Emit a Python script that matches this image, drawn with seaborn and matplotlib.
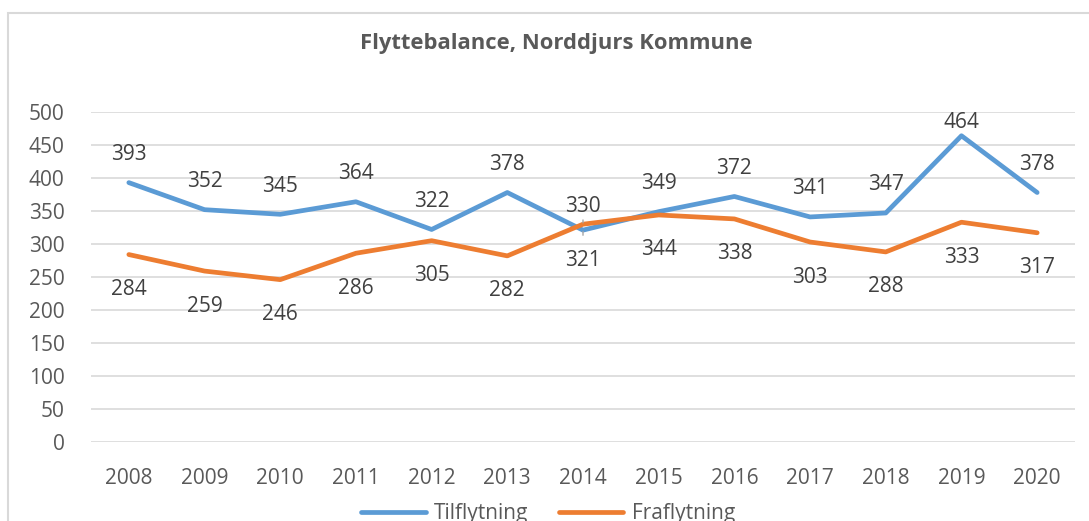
import pandas as pd
import matplotlib.pyplot as plt
import seaborn as sns
from matplotlib.patches import Rectangle

sns.set_style("white")
plt.rcParams['font.family'] = ['Open Sans', 'DejaVu Sans']

# data
years = [2008, 2009, 2010, 2011, 2012, 2013, 2014, 2015, 2016, 2017, 2018, 2019, 2020]
tilflytning = [393, 352, 345, 364, 322, 378, 321, 349, 372, 341, 347, 464, 378]
fraflytning = [284, 259, 246, 286, 305, 282, 330, 344, 338, 303, 288, 333, 317]
series_names = ["Tilflytning", "Fraflytning"]
colors = ["#5B9BD5", "#ED7D31"]

df = pd.DataFrame({
    "year": [str(y) for y in years] * 2,
    "value": tilflytning + fraflytning,
    "serie": [series_names[0]] * len(years) + [series_names[1]] * len(years),
})

fig = plt.figure(figsize=(10.89, 5.21), dpi=100)
ax = fig.add_axes([91 / 1089, 1 - 442 / 521, (1075 - 91) / 1089, (442 - 112) / 521])

# outer chart border (cut by the image edges)
fig.patches.append(Rectangle((8 / 1089, -0.1), 1.2, 1 - 13 / 521 + 0.1,
                             transform=fig.transFigure, fill=False,
                             edgecolor="#D9D9D9", lw=1.5))

sns.lineplot(data=df, x="year", y="value", hue="serie", palette=colors,
             lw=3.4, ax=ax, sort=False)

ax.set_ylim(0, 500)
ax.set_xlim(-0.5, len(years) - 0.5)
ax.set_yticks(range(0, 501, 50))
ax.grid(axis="y", color="#D9D9D9", lw=1.2)
ax.grid(axis="x", visible=False)
for s in ax.spines.values():
    s.set_visible(False)
ax.tick_params(axis="both", length=0, labelsize=15, labelcolor="#595959")
ax.tick_params(axis="y", pad=19)
ax.tick_params(axis="x", pad=19)
ax.set_xlabel("")
ax.set_ylabel("")

# data labels (offsets in pixels): blue above, orange below; 2014 swapped,
# 2019 squeezed under the plot top
px = 0.72
for i, (t, f) in enumerate(zip(tilflytning, fraflytning)):
    t_off, f_off = 28, -35
    kw_line = {}
    if years[i] == 2014:
        t_off, f_off = -30, 18
        kw_line = dict(arrowprops=dict(arrowstyle="-", color="#A6A6A6", lw=1,
                                       shrinkA=8, shrinkB=1))
    if years[i] == 2019:
        t_off = 13
    kw = dict(textcoords="offset points", ha="center", va="center",
              fontsize=15, color="#404040")
    ax.annotate(str(t), (i, t), xytext=(0, t_off * px), **kw, **kw_line)
    ax.annotate(str(f), (i, f), xytext=(0, f_off * px), **kw, **kw_line)

fig.text(556 / 1089, 1 - 44 / 521, "Flyttebalance, Norddjurs Kommune",
         ha="center", va="center", fontsize=15.8, fontweight="bold", color="#595959")

sns.move_legend(ax, "center", bbox_to_anchor=(548 / 1089, 1 - 514 / 521),
                bbox_transform=fig.transFigure, ncol=2, frameon=False, title=None,
                fontsize=15, handlelength=3.1, columnspacing=1.45, handletextpad=0.4)
for txt in ax.get_legend().get_texts():
    txt.set_color("#595959")

fig.savefig("out.png", dpi=100)
